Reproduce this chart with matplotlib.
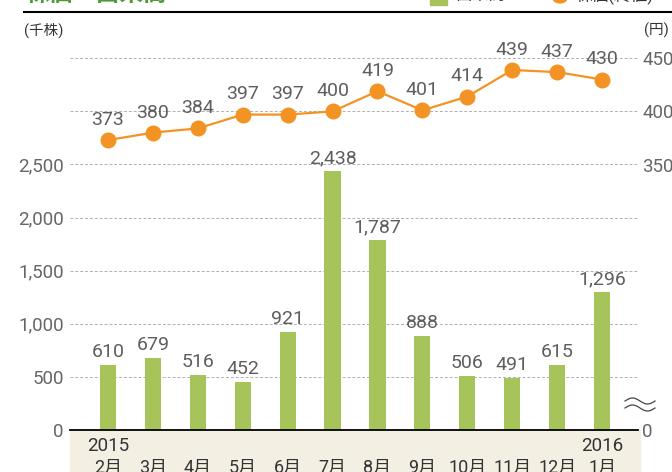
import numpy as np
import matplotlib
matplotlib.use("Agg")
import matplotlib.pyplot as plt
from matplotlib.patches import Rectangle, Circle
from matplotlib.lines import Line2D

plt.rcParams['font.family'] = ['Roboto', 'Noto Sans CJK JP', 'DejaVu Sans']

# data
months = ["2月", "3月", "4月", "5月", "6月", "7月", "8月", "9月", "10月", "11月", "12月", "1月"]
years = {0: "2015", 11: "2016"}
volume = [610, 679, 516, 452, 921, 2438, 1787, 888, 506, 491, 615, 1296]   # 千株
price = [373, 380, 384, 397, 397, 400, 419, 401, 414, 439, 437, 430]        # 円

GREEN = "#A6C45A"
ORANGE = "#F39324"
TXT = "#5E5E5E"
W, H = 672, 472

def fx(px):
    return px / W

def fy(py):
    return 1 - py / H

fig = plt.figure(figsize=(W / 100, H / 100), dpi=100)
ax = fig.add_axes([fx(70), 42 / H, 568 / W, 388 / H])
ax2 = ax.twinx()

x = np.arange(len(months))

# bars (volume)
ax.bar(x, volume, width=0.36, color=GREEN, zorder=2)
for xi, v in zip(x, volume):
    ax.annotate(f"{v:,}", (xi, v), xytext=(0, 3), textcoords="offset points",
                ha="center", va="bottom", fontsize=14, color=TXT)

top = 388 / 0.1062
ax.set_ylim(0, top)
ax.set_xlim(-0.846, 11.8)
ticks = np.arange(0, 3501, 500)
ax.set_yticks(ticks)
ax.set_yticklabels([f"{t:,}" if t <= 2500 else "" for t in ticks])
ax.yaxis.grid(True, color="#B0B0B0", ls=(0, (3, 2)), lw=0.7)
ax.set_axisbelow(True)
ax.tick_params(axis="y", length=0, pad=4.5, labelsize=13.5, labelcolor="#666666")
ax.set_xticks(x)
ax.set_xticklabels(months)
ax.tick_params(axis="x", length=0, pad=21, labelsize=13, labelcolor="#333333")
for i, yr in years.items():
    ax.text(i, -16 / 388, yr, transform=ax.get_xaxis_transform(), ha="center",
            va="center", fontsize=13.5, color="#333333")

for s in ["top", "left", "right"]:
    ax.spines[s].set_visible(False)
    ax2.spines[s].set_visible(False)
ax.spines["bottom"].set_linewidth(1.3)
ax2.spines["bottom"].set_visible(False)

# line (closing price) on right axis: 350 yen sits at 2,500 on the left
ax2.set_ylim(100, 100 + top / 10)
ax2.plot(x, price, color=ORANGE, lw=1.6, marker="o", ms=10.5, zorder=3)
for xi, p in zip(x, price):
    ax2.annotate(str(p), (xi, p), xytext=(0, 8), textcoords="offset points",
                 ha="center", va="bottom", fontsize=14, color=TXT)
ax2.set_yticks([100, 350, 400, 450])
ax2.set_yticklabels(["0", "350", "400", "450"])
ax2.tick_params(axis="y", length=0, pad=3, labelsize=13.5, labelcolor="#666666")

# beige band under the axis
fig.add_artist(Rectangle((fx(70), 0), 570 / W, 42 / H, transform=fig.transFigure,
                         color="#F3EFE3", zorder=0))

# axis break marks on the right
wx = np.linspace(625, 655, 40)
for y0 in (401, 408):
    wy = y0 - 3 * np.sin(2 * np.pi * (wx - 625) / 30)
    fig.add_artist(Line2D(fx(wx), fy(wy), transform=fig.transFigure,
                          color="#444444", lw=0.9))

# header: title, rule, legend (clipped at top as in the source)
fig.text(fx(26), fy(1), "株価・出来高", fontsize=17, color="#4E9A35",
         fontweight="bold", va="baseline", ha="left")
fig.add_artist(Line2D([fx(24), 1], [fy(12), fy(12)], transform=fig.transFigure,
                      color="black", lw=1.5))
fig.add_artist(Rectangle((fx(430), fy(5)), 17 / W, 17 / H, transform=fig.transFigure,
                         color=GREEN))
fig.text(fx(455), fy(0), "出来高", fontsize=12, color="#333333", va="baseline")
fig.add_artist(Circle((fx(560), fy(-2)), 7 / W, transform=fig.transFigure, color=ORANGE))
fig.text(fx(575), fy(0), "株価(終値)", fontsize=12, color="#333333", va="baseline")

fig.text(fx(24), fy(30), "(千株)", fontsize=10.5, color="#333333", va="center", ha="left")
fig.text(fx(644), fy(30), "(円)", fontsize=10.5, color="#333333", va="center", ha="left")

fig.savefig("out.png", dpi=100)
